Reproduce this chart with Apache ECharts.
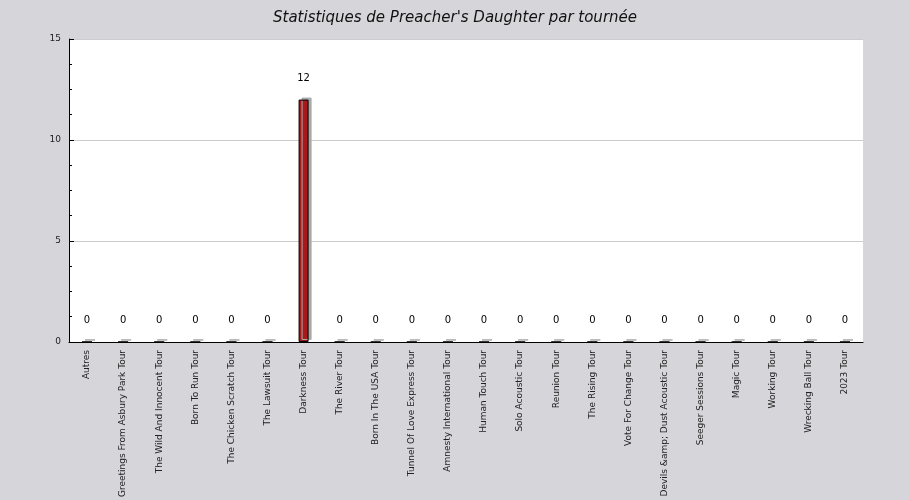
<!DOCTYPE html>
<html>
<head>
<meta charset="utf-8">
<script src="https://cdn.jsdelivr.net/npm/echarts@6/dist/echarts.min.js"></script>
<style>html,body{margin:0;background:#d6d5da;}#c{width:910px;height:500px;}</style>
</head>
<body>
<div id="c"></div>
<script>
var tours = ['Autres','Greetings From Asbury Park Tour','The Wild And Innocent Tour','Born To Run Tour','The Chicken Scratch Tour','The Lawsuit Tour','Darkness Tour','The River Tour','Born In The USA Tour','Tunnel Of Love Express Tour','Amnesty International Tour','Human Touch Tour','Solo Acoustic Tour','Reunion Tour','The Rising Tour','Vote For Change Tour','Devils &amp; Dust Acoustic Tour','Seeger Sessions Tour','Magic Tour','Working Tour','Wrecking Ball Tour','2023 Tour'];
var counts = [0,0,0,0,0,0,12,0,0,0,0,0,0,0,0,0,0,0,0,0,0,0];
var yTicks = [0,5,10,15];

var chart = echarts.init(document.getElementById('c'));
chart.setOption({
  backgroundColor: '#d6d5da',
  title: { text: "Statistiques de Preacher's Daughter par tournée", left: 'center', top: 6,
    textStyle: { fontStyle: 'italic', fontWeight: 'normal', fontSize: 15, color: '#111', fontFamily: 'DejaVu Sans' } },
  grid: { left: 69, right: 47, top: 39, bottom: 158, backgroundColor: '#fff', show: true, borderWidth: 0 },
  xAxis: {
    type: 'category', data: tours,
    axisLine: { lineStyle: { color: '#000' } },
    axisTick: { inside: true, length: 5, lineStyle: { color: '#000' } },
    axisLabel: { rotate: 90, fontSize: 9, color: '#222', fontFamily: 'DejaVu Sans', interval: 0, margin: 8 }
  },
  yAxis: {
    type: 'value', min: yTicks[0], max: yTicks[yTicks.length - 1], interval: 5,
    axisLine: { show: true, lineStyle: { color: '#000' } },
    axisTick: { show: true, inside: true, length: 5, lineStyle: { color: '#000' } },
    minorTick: { show: true, splitNumber: 4, length: 3, lineStyle: { color: '#000' } },
    splitLine: { lineStyle: { color: '#ccc' } },
    axisLabel: { fontSize: 9, color: '#222', fontFamily: 'DejaVu Sans' }
  },
  series: [{
    type: 'bar', data: counts, barWidth: 10,
    itemStyle: { color: '#a8191a', borderColor: '#000', borderWidth: 1,
      shadowColor: '#aaa', shadowOffsetX: 3, shadowOffsetY: -2, shadowBlur: 0 },
    label: { show: true, position: 'top', distance: 16, fontSize: 10, color: '#000', fontFamily: 'DejaVu Sans' }
  }]
});
</script>
</body>
</html>
